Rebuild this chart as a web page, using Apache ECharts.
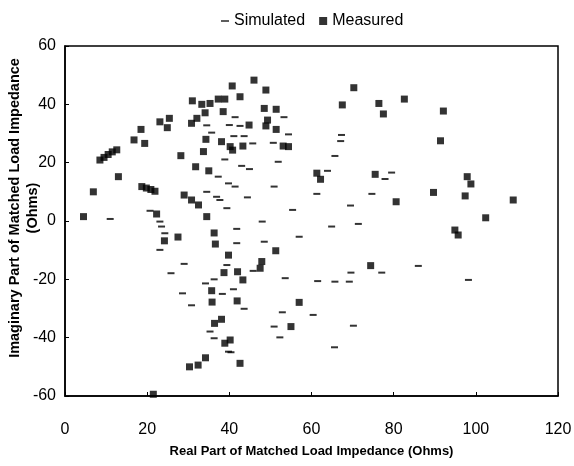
<!DOCTYPE html>
<html>
<head>
<meta charset="utf-8">
<script src="https://cdn.jsdelivr.net/npm/echarts@6/dist/echarts.min.js"></script>
<style>
  html, body { margin: 0; padding: 0; background: #fff; }
  #chart { width: 574px; height: 466px; }
</style>
</head>
<body>
<div id="chart"></div>
<script>
// axis ticks
var xTicks = [0, 20, 40, 60, 80, 100, 120];
var yTicks = [-60, -40, -20, 0, 20, 40, 60];

// measured points [real, imaginary]
var measured = [
  [31.0, 41.2], [33.3, 40.0], [35.3, 40.3], [37.3, 41.8], [38.9, 41.8], [34.1, 37.1],
  [32.1, 35.2], [30.8, 33.5], [38.5, 37.5], [23.1, 34.0], [25.4, 35.2], [24.9, 32.0],
  [18.5, 31.4], [16.8, 27.8], [19.4, 26.6], [34.3, 28.0], [38.1, 27.2], [33.7, 23.8],
  [28.2, 22.4], [8.5, 20.9], [9.5, 21.8], [10.5, 22.8], [11.5, 23.7], [12.6, 24.4],
  [31.8, 18.6], [35.0, 17.2], [13.0, 15.2], [6.9, 10.0], [18.7, 11.8], [19.8, 11.3],
  [20.9, 10.8], [21.9, 10.2], [29.0, 8.9], [30.8, 7.2], [32.5, 5.5], [4.5, 1.5],
  [22.3, 2.4], [34.5, 1.5], [27.5, -5.5], [36.3, -4.1], [24.2, -6.8], [36.6, -7.9],
  [39.8, -11.7], [38.7, -17.7], [35.7, -23.9], [35.8, -27.8], [36.4, -35.1], [38.1, -33.7],
  [38.9, -41.9], [30.3, -50.0], [32.4, -49.4], [34.2, -46.9], [21.5, -59.4],
  [46.0, 48.3], [40.7, 46.3], [48.9, 44.9], [42.6, 42.6], [70.3, 45.7], [67.5, 39.8],
  [76.4, 40.3], [77.5, 36.7], [48.5, 38.6], [51.4, 38.3], [44.8, 32.9], [49.3, 34.6],
  [48.9, 32.6], [51.4, 31.4], [40.2, 25.5], [40.8, 24.3], [43.3, 25.7], [53.1, 25.7],
  [54.4, 25.5], [61.3, 16.4], [62.2, 14.3], [75.5, 16.0],
  [51.3, -10.2], [47.9, -13.9], [47.5, -16.2], [42.0, -17.4], [43.3, -20.2], [41.9, -27.4],
  [40.2, -40.8], [42.6, -48.8], [55.0, -36.2], [57.0, -27.9], [74.4, -15.3],
  [82.6, 41.8], [92.1, 37.7], [91.4, 27.5], [97.9, 15.2], [98.8, 12.7], [89.7, 9.8],
  [97.4, 8.6], [109.1, 7.2], [80.6, 6.6], [102.4, 1.1], [94.9, -3.1], [95.7, -4.8]
];

// simulated points [real, imaginary]
var simulated = [
  [34.5, 32.8], [35.7, 30.3], [38.9, 21.1], [37.3, 15.2], [39.8, 12.9], [34.5, 10.0],
  [36.9, 8.3], [37.7, 7.2], [39.4, 4.4], [20.7, 3.5], [23.1, -0.2], [23.5, -1.9],
  [24.3, -4.2], [11.0, 0.7],
  [23.1, -9.9], [29.0, -14.7], [25.8, -17.9], [39.4, -15.1], [34.2, -21.4], [36.3, -20.0],
  [38.3, -25.0], [28.6, -24.8], [30.8, -28.9], [35.3, -37.9], [36.3, -40.2], [39.8, -44.8],
  [53.3, 35.6], [41.4, 35.6], [40.0, 32.9], [42.6, 32.6], [54.4, 29.7], [41.1, 29.1],
  [43.6, 29.1], [45.7, 26.6], [50.7, 26.8], [67.3, 29.5], [67.1, 27.4], [65.7, 22.3],
  [63.9, 17.2], [43.0, 18.9], [44.9, 17.8], [51.9, 20.3], [77.9, 14.4], [74.7, 9.3],
  [61.3, 9.3], [69.5, 5.3], [71.4, -1.0], [64.9, -1.9], [41.4, 11.8], [50.9, 11.8],
  [44.4, 8.1], [55.4, 3.8], [48.0, -0.2], [41.8, -2.7], [57.0, -5.4],
  [41.8, -7.6], [48.5, -7.1], [45.8, -17.1], [41.0, -23.4], [43.6, -30.1], [40.4, -45.0],
  [53.6, -19.6], [52.9, -31.3], [50.9, -36.2], [52.3, -39.9], [60.4, -32.2], [61.5, -20.6],
  [65.7, -20.8], [69.2, -20.8], [69.6, -17.7], [77.1, -17.7], [70.2, -35.9], [65.6, -43.3],
  [79.5, 16.6], [86.0, -15.4], [98.2, -20.2]
];

var seriesNames = ['Simulated', 'Measured'];
var font = '"Liberation Sans", Arial, sans-serif';

var chart = echarts.init(document.getElementById('chart'));

var option = {
  backgroundColor: '#fff',
  animation: false,
  textStyle: { fontFamily: font, color: '#000' },
  legend: {
    top: 8,
    left: 216,
    itemWidth: 8,
    itemHeight: 8,
    itemGap: 14,
    textStyle: { fontFamily: font, fontSize: 16, color: '#000' },
    data: [
      { name: seriesNames[0], icon: 'path://M0,0 M0,3.2 L8,3.2 L8,4.8 L0,4.8 Z M8,8' },
      { name: seriesNames[1], icon: 'rect' }
    ]
  },
  grid: {
    left: 65,
    right: 16,
    top: 46,
    bottom: 70,
    containLabel: false,
    outerBoundsMode: 'none',
    show: true,
    borderColor: '#000',
    borderWidth: 1.5
  },
  xAxis: {
    type: 'value',
    min: xTicks[0],
    max: xTicks[xTicks.length - 1],
    interval: 20,
    name: 'Real Part of Matched Load Impedance (Ohms)',
    nameLocation: 'middle',
    nameGap: 49,
    nameTextStyle: { fontFamily: font, fontSize: 13, fontWeight: 'bold', color: '#000' },
    axisLine: { show: true, onZero: false, lineStyle: { color: '#000', width: 1.5 } },
    axisTick: { show: true, inside: true, length: 4, lineStyle: { color: '#000' } },
    axisLabel: { fontFamily: font, fontSize: 16, color: '#000', margin: 26 },
    splitLine: { show: false }
  },
  yAxis: {
    type: 'value',
    min: yTicks[0],
    max: yTicks[yTicks.length - 1],
    interval: 20,
    name: 'Imaginary Part of Matched Load Impedance\n(Ohms)',
    nameLocation: 'middle',
    nameRotate: 90,
    nameGap: 23,
    nameMoveOverlap: false,
    nameTextStyle: {
      fontFamily: font, fontSize: 14.5, fontWeight: 'bold', color: '#000',
      lineHeight: 18, padding: [0, 0, 0, 26]
    },
    axisLine: { show: true, onZero: false, lineStyle: { color: '#000', width: 1.5 } },
    axisTick: { show: true, inside: true, length: 4, lineStyle: { color: '#000' } },
    axisLabel: { fontFamily: font, fontSize: 16, color: '#000', margin: 9 },
    splitLine: { show: false }
  },
  series: [
    {
      name: seriesNames[0],
      type: 'scatter',
      symbol: 'rect',
      symbolSize: [7, 2],
      itemStyle: { color: '#000' },
      data: simulated
    },
    {
      name: seriesNames[1],
      type: 'scatter',
      symbol: 'rect',
      symbolSize: [7, 7],
      itemStyle: { color: '#000' },
      data: measured
    }
  ]
};

chart.setOption(option);
</script>
</body>
</html>
